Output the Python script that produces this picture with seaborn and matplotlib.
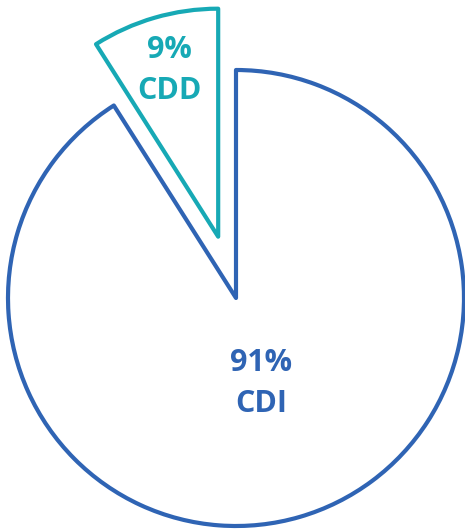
import matplotlib
matplotlib.use("Agg")
import matplotlib.pyplot as plt
import seaborn as sns
import numpy as np

sns.set_theme(style="white")
plt.rcParams['font.family'] = ['Liberation Sans Narrow', 'Open Sans', 'DejaVu Sans']

categories = ["CDI", "CDD"]
values = [91, 9]
colors = ["#2F64B4", "#17A9B5"]
explode = [0, 0.28]
label_dist = [0.39, 0.76]

fig = plt.figure(figsize=(4.65, 5.29), dpi=100)
ax = fig.add_axes([0, 0, 1, 1])

wedges, texts, autotexts = ax.pie(
    values, explode=explode, startangle=90, counterclock=False,
    colors=["white"] * 2, autopct="%d%%", pctdistance=0.39,
    wedgeprops=dict(linewidth=3.0, joinstyle="round"),
)
for w, t, c, cat, d in zip(wedges, autotexts, colors, categories, label_dist):
    w.set_edgecolor(c)
    th = np.deg2rad((w.theta1 + w.theta2) / 2)
    cx, cy = w.center
    t.set_position((cx + d * np.cos(th), cy + d * np.sin(th)))
    t.set_text(f"{t.get_text()}\n{cat}")
    t.set_color(c)
    t.set_fontsize(22)
    t.set_fontweight("bold")
    t.set_linespacing(1.5)
    t.set_ha("center")
    t.set_va("center")

ax.set_xlim(-236 / 228, (465 - 236) / 228)
ax.set_ylim(-231 / 228, 298 / 228)
ax.set_aspect("equal")
ax.axis("off")
fig.savefig("out.png", dpi=100)
